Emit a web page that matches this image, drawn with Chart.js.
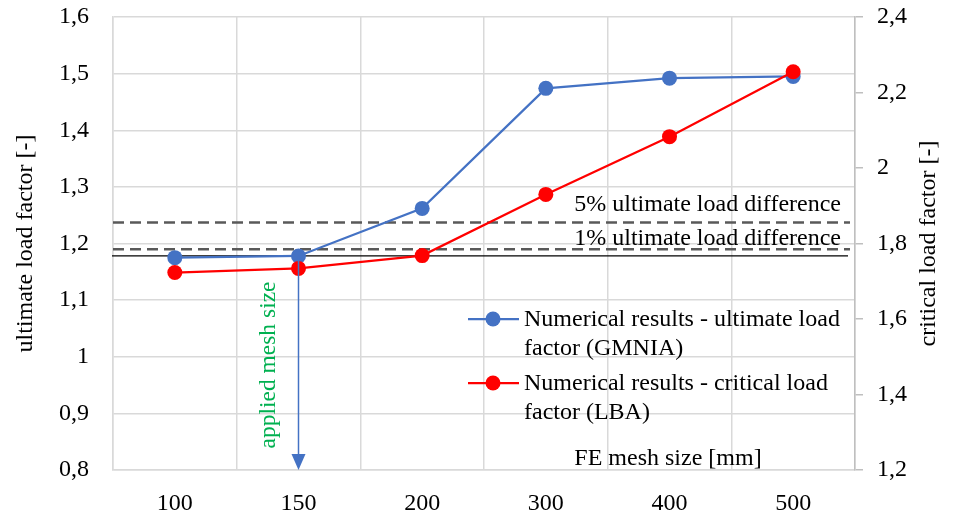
<!DOCTYPE html>
<html>
<head>
<meta charset="utf-8">
<script src="https://cdn.jsdelivr.net/npm/chart.js@4"></script>
<style>
    html, body { margin: 0; padding: 0; background: #ffffff; }
    #wrap { width: 953px; height: 516px; }
</style>
</head>
<body>
<div id="wrap"><canvas id="mesh-chart" width="953" height="516"></canvas></div>
<script>
// FE mesh size study -- ultimate (GMNIA) vs critical (LBA) load factor

// ---------------------------------------------------------------------------
// Data
// ---------------------------------------------------------------------------
const meshSizes          = ["100", "150", "200", "300", "400", "500"];
const ultimateLoadFactor = [1.175, 1.178, 1.262, 1.474, 1.492, 1.495];   // left axis
const criticalLoadFactor = [1.723, 1.734, 1.768, 1.930, 2.083, 2.255];   // right axis

const leftAxisRange  = [0.8, 1.6, 0.1];
const rightAxisRange = [1.2, 2.4, 0.2];

// reference levels on the ultimate load factor axis
const baseLevel      = 1.178;
const diffLevels     = [1.237, 1.190];
const diffLabels     = ["5% ultimate load difference", "1% ultimate load difference"];
const appliedMeshIdx = 1;

const BLUE  = "#4472C4";
const RED   = "#FF0000";
const GREEN = "#00B050";
const FONT  = "'Liberation Serif', 'Times New Roman', serif";

Chart.defaults.font.family = FONT;
Chart.defaults.font.size = 24;
Chart.defaults.color = "#000000";

function commaNum(v) {
    return String(Number(v.toFixed(1))).replace(".", ",");
}

// keep the plot box where the picture has it: no extra padding for edge labels
function noEdgePadding(scale) {
    scale.paddingTop = 0;
    scale.paddingBottom = 0;
    scale.paddingLeft = 0;
    scale.paddingRight = 0;
}

// ---------------------------------------------------------------------------
// Overlay: reference lines, arrow, labels, legend, axis titles
// ---------------------------------------------------------------------------
const overlay = {
    id: "overlay",
    beforeDatasetsDraw(chart) {
        const { ctx, chartArea, scales } = chart;
        const y = scales.y;
        ctx.save();
        ctx.strokeStyle = "#595959";
        ctx.lineWidth = 2.5;
        ctx.setLineDash([11, 6]);
        diffLevels.forEach((v) => {
            const py = y.getPixelForValue(v);
            ctx.beginPath();
            ctx.moveTo(chartArea.left, py);
            ctx.lineTo(chartArea.right - 5, py);
            ctx.stroke();
        });
        ctx.setLineDash([]);
        ctx.strokeStyle = "#000000";
        ctx.lineWidth = 1.2;
        const pb = y.getPixelForValue(baseLevel);
        ctx.beginPath();
        ctx.moveTo(chartArea.left - 1, pb);
        ctx.lineTo(chartArea.right - 7, pb);
        ctx.stroke();
        ctx.restore();
    },
    afterDatasetsDraw(chart) {
        const { ctx, chartArea, scales } = chart;
        const x = scales.x, y = scales.y;
        ctx.save();

        // arrow down from the applied mesh size
        const ax = x.getPixelForValue(appliedMeshIdx);
        const ay = y.getPixelForValue(ultimateLoadFactor[appliedMeshIdx]);
        const tip = chartArea.bottom;
        ctx.strokeStyle = BLUE;
        ctx.fillStyle = BLUE;
        ctx.lineWidth = 1.5;
        ctx.beginPath();
        ctx.moveTo(ax, ay);
        ctx.lineTo(ax, tip - 14);
        ctx.stroke();
        ctx.beginPath();
        ctx.moveTo(ax, tip);
        ctx.lineTo(ax - 7, tip - 16);
        ctx.lineTo(ax + 7, tip - 16);
        ctx.closePath();
        ctx.fill();

        // rotated green label next to the arrow
        ctx.save();
        ctx.translate(ax - 24, 365);
        ctx.rotate(-Math.PI / 2);
        ctx.fillStyle = GREEN;
        ctx.font = "23.5px " + FONT;
        ctx.textAlign = "center";
        ctx.textBaseline = "alphabetic";
        ctx.fillText("applied mesh size", 0, 0);
        ctx.restore();

        // labels for the difference lines
        ctx.fillStyle = "#000000";
        ctx.font = "24px " + FONT;
        ctx.textAlign = "right";
        ctx.textBaseline = "alphabetic";
        ctx.fillText(diffLabels[0], 841, y.getPixelForValue(diffLevels[0]) - 12);
        ctx.fillText(diffLabels[1], 841, y.getPixelForValue(diffLevels[1]) - 4);

        // x axis title inside the plot
        ctx.textAlign = "center";
        ctx.fillText("FE mesh size [mm]", 668, 465);

        // legend
        const entries = [
            { color: BLUE, lines: ["Numerical results - ultimate load", "factor (GMNIA)"], y: 319 },
            { color: RED,  lines: ["Numerical results - critical load", "factor (LBA)"],   y: 383 },
        ];
        entries.forEach((e) => {
            ctx.strokeStyle = e.color;
            ctx.fillStyle = e.color;
            ctx.lineWidth = 2.25;
            ctx.beginPath();
            ctx.moveTo(468, e.y);
            ctx.lineTo(519, e.y);
            ctx.stroke();
            ctx.beginPath();
            ctx.arc(493, e.y, 7.5, 0, Math.PI * 2);
            ctx.fill();
            ctx.fillStyle = "#000000";
            ctx.textAlign = "left";
            ctx.textBaseline = "alphabetic";
            e.lines.forEach((t, i) => ctx.fillText(t, 524, e.y + 7 + i * 28.5));
        });

        // axis titles, both reading bottom to top
        const midY = (chartArea.top + chartArea.bottom) / 2;
        [["ultimate load factor [-]", 32], ["critical load factor [-]", 935]].forEach(([t, tx]) => {
            ctx.save();
            ctx.translate(tx, midY);
            ctx.rotate(-Math.PI / 2);
            ctx.textAlign = "center";
            ctx.textBaseline = "alphabetic";
            ctx.fillText(t, 0, 0);
            ctx.restore();
        });

        ctx.restore();
    },
};

// ---------------------------------------------------------------------------
// Chart
// ---------------------------------------------------------------------------
new Chart(document.getElementById("mesh-chart").getContext("2d"), {
    type: "line",
    data: {
        labels: meshSizes,
        datasets: [
            {
                label: "Numerical results - ultimate load factor (GMNIA)",
                data: ultimateLoadFactor,
                yAxisID: "y",
                borderColor: BLUE,
                backgroundColor: BLUE,
                pointBackgroundColor: BLUE,
                borderWidth: 2.25,
                pointRadius: 7.5,
                pointBorderWidth: 0,
                tension: 0,
                order: 1,
            },
            {
                label: "Numerical results - critical load factor (LBA)",
                data: criticalLoadFactor,
                yAxisID: "y2",
                borderColor: RED,
                backgroundColor: RED,
                pointBackgroundColor: RED,
                borderWidth: 2.25,
                pointRadius: 7.5,
                pointBorderWidth: 0,
                tension: 0,
                order: 0,
            },
        ],
    },
    options: {
        responsive: false,
        animation: false,
        devicePixelRatio: 1,
        layout: { padding: { top: 17, left: 0, right: 0, bottom: 0 } },
        plugins: {
            legend: { display: false },
            tooltip: { enabled: false },
        },
        scales: {
            x: {
                offset: true,
                grid: { offset: true, color: "#D9D9D9", lineWidth: 1.5, drawTicks: false },
                border: { color: "#D9D9D9", width: 1.5 },
                ticks: { padding: 19, font: { size: 24 } },
                afterFit(scale) { scale.height = 46; noEdgePadding(scale); },
            },
            y: {
                position: "left",
                min: leftAxisRange[0],
                max: leftAxisRange[1],
                grid: { color: "#D9D9D9", lineWidth: 1.5, drawTicks: false },
                border: { color: "#D9D9D9", width: 1.5 },
                ticks: {
                    stepSize: leftAxisRange[2],
                    padding: 24,
                    font: { size: 24 },
                    callback: (v) => commaNum(v),
                },
                afterFit(scale) { scale.width = 113; noEdgePadding(scale); },
            },
            y2: {
                position: "right",
                min: rightAxisRange[0],
                max: rightAxisRange[1],
                grid: { drawOnChartArea: false, drawTicks: true, tickLength: 8, color: "#BFBFBF", lineWidth: 1.5 },
                border: { color: "#BFBFBF", width: 1.5 },
                ticks: {
                    stepSize: rightAxisRange[2],
                    padding: 14,
                    font: { size: 24 },
                    callback: (v) => commaNum(v),
                },
                afterFit(scale) { scale.width = 98; noEdgePadding(scale); },
            },
        },
    },
    plugins: [overlay],
});
</script>
</body>
</html>
